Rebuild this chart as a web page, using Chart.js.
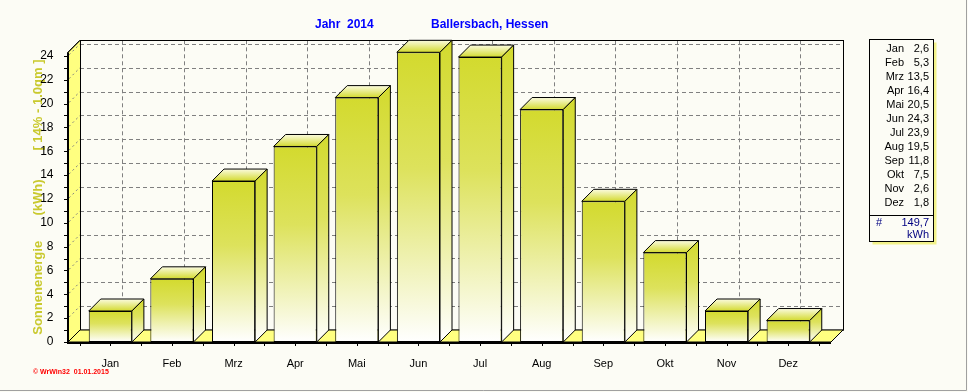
<!DOCTYPE html>
<html><head><meta charset="utf-8">
<script src="https://cdn.jsdelivr.net/npm/chart.js@4.4.1/dist/chart.umd.min.js"></script>
<style>
html,body{margin:0;padding:0;background:#FCFCF5;overflow:hidden;}
#wrap{width:968px;height:392px;position:relative;}
</style></head><body>
<div id="wrap"><canvas id="c" width="968" height="392"></canvas></div>
<script>
// ---- data ----
const months = ['Jan','Feb','Mrz','Apr','Mai','Jun','Jul','Aug','Sep','Okt','Nov','Dez'];
const energy = [2.6, 5.3, 13.5, 16.4, 20.5, 24.3, 23.9, 19.5, 11.8, 7.5, 2.6, 1.8];
const yTickValues = [0, 2, 4, 6, 8, 10, 12, 14, 16, 18, 20, 22, 24];
const totalKWh = 149.7;
const unitLabel = 'kWh';
const yMax = 24.3;
const titleYear = 'Jahr  2014';
const titleLocation = 'Ballersbach, Hessen';
const yAxisTitle = 'Sonnenenergie       (kWh)        [ 14% - 1.0qm ]';
const footnote = '\u00A9 WrWin32  01.01.2015';

// ---- styles ----
const FONT = '"Liberation Sans", Arial, sans-serif';
const BG = '#FCFCF5';
const WALL = '#FFFF80';
const BAR_TOP = '#D3DA2E';
const DEPTH = 12;
const fmt = v => v.toFixed(1).replace('.', ',');

function vGrad(ctx, y0, y1) {
  const g = ctx.createLinearGradient(0, y0, 0, y1);
  g.addColorStop(0, BAR_TOP);
  g.addColorStop(0.4, '#DDE25C');
  g.addColorStop(1, '#FFFFFF');
  return g;
}

function poly(ctx, pts, fill, stroke) {
  ctx.beginPath();
  ctx.moveTo(pts[0][0], pts[0][1]);
  for (let i = 1; i < pts.length; i++) ctx.lineTo(pts[i][0], pts[i][1]);
  ctx.closePath();
  if (fill) { ctx.fillStyle = fill; ctx.fill(); }
  if (stroke) { ctx.strokeStyle = stroke; ctx.lineWidth = 1; ctx.stroke(); }
}

const threeD = {
  id: 'threeD',
  beforeDraw(chart) {
    const ctx = chart.ctx;
    ctx.save();
    ctx.fillStyle = BG;
    ctx.fillRect(0, 0, chart.width, chart.height);
    ctx.restore();
  },
  beforeDatasetsDraw(chart) {
    const {ctx, chartArea: {left, right, top, bottom}, scales: {x, y}} = chart;
    const D = DEPTH;
    const FL = left - 11.5, FR = right + 12;
    ctx.save();
    // back wall
    ctx.fillStyle = BG;
    ctx.fillRect(FL + D, top - D, FR - FL, bottom - top);
    ctx.strokeStyle = '#808080';
    ctx.lineWidth = 1;
    ctx.setLineDash([4, 3]);
    y.ticks.forEach(t => {
      if (t.value === 0) return;
      const py = Math.round(y.getPixelForValue(t.value) - D) + 0.5;
      ctx.beginPath(); ctx.moveTo(FL + D, py); ctx.lineTo(FR + D, py); ctx.stroke();
    });
    months.forEach((m, i) => {
      const px = Math.round(x.getPixelForValue(i) + D) + 0.5;
      ctx.beginPath(); ctx.moveTo(px, top - D); ctx.lineTo(px, bottom - D); ctx.stroke();
    });
    ctx.setLineDash([]);
    ctx.strokeStyle = '#000';
    ctx.strokeRect(Math.round(FL + D) + 0.5, Math.round(top - D) + 0.5, FR - FL, bottom - top);
    // left wall
    poly(ctx, [[FL, top], [FL + D, top - D], [FL + D, bottom - D], [FL, bottom]], WALL, null);
    ctx.save();
    ctx.strokeStyle = '#808080'; ctx.setLineDash([2, 3]);
    y.ticks.forEach(t => {
      if (t.value === 0) return;
      const fy = y.getPixelForValue(t.value);
      ctx.beginPath(); ctx.moveTo(FL + 1, fy - 1); ctx.lineTo(FL + D, fy - D); ctx.stroke();
    });
    ctx.restore();
    poly(ctx, [[FL, top], [FL + D, top - D]], null, '#000');
    // floor
    poly(ctx, [[FL, bottom], [FR, bottom], [FR + D, bottom - D], [FL + D, bottom - D]], WALL, '#000');
    ctx.restore();
  },
  afterDatasetsDraw(chart) {
    const {ctx, chartArea: {left, right, top, bottom}, scales: {x, y}} = chart;
    const D = DEPTH;
    const FL = left - 11.5, FR = right + 12;
    ctx.save();
    const meta = chart.getDatasetMeta(0);
    meta.data.forEach(bar => {
      const p = bar.getProps(['x', 'y', 'width', 'base'], true);
      const L = p.x - p.width / 2, R = p.x + p.width / 2;
      const T = p.y, B = p.base;
      const tg = ctx.createLinearGradient(0, T, 0, T - D);
      tg.addColorStop(0, BAR_TOP);
      tg.addColorStop(1, '#FBFBE0');
      poly(ctx, [[L, T], [R, T], [R + D, T - D], [L + D, T - D]], tg, '#000');
      poly(ctx, [[R, T], [R + D, T - D], [R + D, B - D], [R, B]], vGrad(ctx, T - D, B), '#000');
    });
    // front axes
    ctx.strokeStyle = '#000';
    ctx.lineWidth = 2;
    ctx.beginPath(); ctx.moveTo(FL, top); ctx.lineTo(FL, bottom + 1); ctx.lineTo(FR, bottom + 1); ctx.stroke();
    ctx.lineWidth = 1;
    for (let v = 0; v <= Math.floor(yMax); v++) {
      const py = Math.round(y.getPixelForValue(v)) + 0.5;
      ctx.beginPath(); ctx.moveTo(FL - 4, py); ctx.lineTo(FL, py); ctx.stroke();
    }
    for (let i = -0.5; i <= months.length - 0.5; i += 0.5) {
      const px = Math.round(x.getPixelForValue(i)) + 0.5;
      ctx.beginPath(); ctx.moveTo(px, bottom + 1); ctx.lineTo(px, bottom + 4); ctx.stroke();
    }
    ctx.restore();
  },
  afterDraw(chart) {
    const ctx = chart.ctx;
    ctx.save();
    ctx.fillStyle = '#0000FF';
    ctx.font = 'bold 12px ' + FONT;
    ctx.textBaseline = 'middle';
    ctx.textAlign = 'left';
    ctx.fillText(titleYear, 315, 25);
    ctx.fillText(titleLocation, 431, 25);
    ctx.fillStyle = '#FF0000';
    ctx.font = 'bold 7px ' + FONT;
    ctx.fillText(footnote, 33, 372);
    const bx = 869.5, by = 39.5, bw = 64, bh = 202;
    ctx.fillStyle = '#F2F28A';
    ctx.fillRect(bx + 3, by + 3, bw, bh);
    ctx.fillStyle = BG;
    ctx.fillRect(bx, by, bw, bh);
    ctx.strokeStyle = '#000';
    ctx.lineWidth = 1;
    ctx.strokeRect(bx, by, bw, bh);
    ctx.beginPath(); ctx.moveTo(bx, 215.5); ctx.lineTo(bx + bw, 215.5); ctx.stroke();
    ctx.font = '11px ' + FONT;
    ctx.fillStyle = '#000';
    ctx.textAlign = 'right';
    months.forEach((m, i) => {
      const ty = 48.5 + i * 14;
      ctx.fillText(m, 904, ty);
      ctx.fillText(fmt(energy[i]), 929, ty);
    });
    ctx.fillStyle = '#000080';
    ctx.textAlign = 'left';
    ctx.fillText('#', 876, 223);
    ctx.textAlign = 'right';
    ctx.fillText(fmt(totalKWh), 929, 223);
    ctx.fillText(unitLabel, 929, 234.5);
    ctx.strokeStyle = '#A0A0A0';
    ctx.beginPath(); ctx.moveTo(966.5, 0); ctx.lineTo(966.5, 390.5); ctx.lineTo(0, 390.5); ctx.stroke();
    ctx.restore();
  }
};

new Chart(document.getElementById('c'), {
  type: 'bar',
  data: {
    labels: months,
    datasets: [{
      data: energy,
      backgroundColor: (c) => {
        const ch = c.chart;
        if (!ch.chartArea || c.type !== 'data') return BAR_TOP;
        const ys = ch.scales.y;
        return vGrad(ch.ctx, ys.getPixelForValue(c.raw), ys.getPixelForValue(0));
      },
      borderColor: '#000',
      borderWidth: 1,
      borderSkipped: false,
      categoryPercentage: 1,
      barPercentage: 0.7
    }]
  },
  options: {
    responsive: false,
    animation: false,
    devicePixelRatio: 1,
    events: [],
    layout: { padding: { left: 0, right: 149, top: 52.3, bottom: 20 } },
    plugins: { legend: { display: false }, tooltip: { enabled: false }, title: { display: false } },
    scales: {
      x: {
        offset: true,
        grid: { display: false },
        border: { display: false },
        ticks: { color: '#000', font: { family: FONT, size: 11 }, padding: 7, maxRotation: 0, autoSkip: false },
        afterFit: s => { s.height = 30; }
      },
      y: {
        min: 0, max: yMax,
        grid: { display: false },
        border: { display: false },
        ticks: { color: '#000', font: { family: FONT, size: 12 }, padding: 18, autoSkip: false },
        afterBuildTicks: s => { s.ticks = yTickValues.map(v => ({ value: v })); },
        title: { display: true, text: yAxisTitle, color: '#C9C92E', font: { family: FONT, size: 13, weight: 'bold' }, padding: { top: 31, bottom: 0 } },
        afterFit: s => { s.width = 79.5; }
      }
    }
  },
  plugins: [threeD]
});
</script>
</body></html>
